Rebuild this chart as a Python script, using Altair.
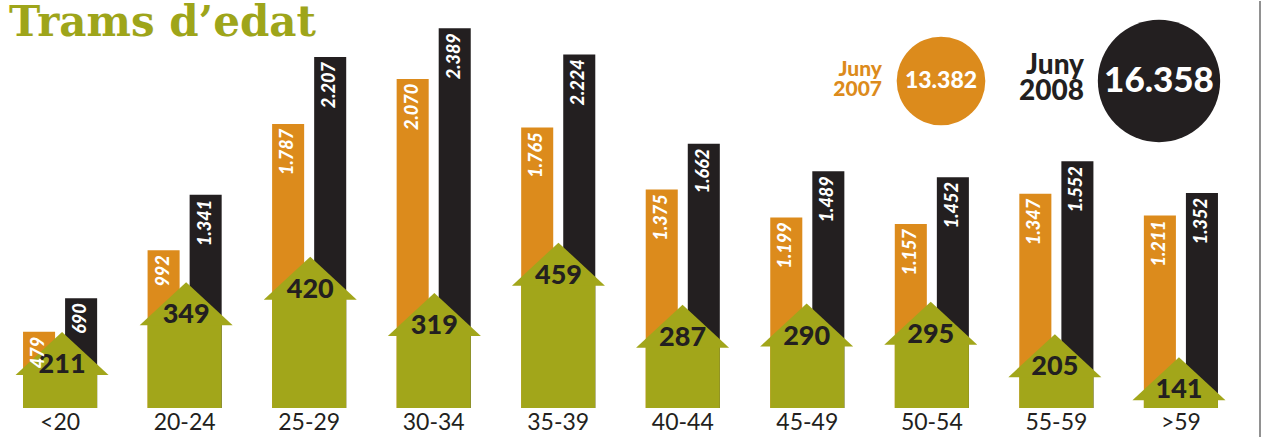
import altair as alt
import pandas as pd

title_text = ["Trams d\u2019edat"]
ages = ["<20", "20-24", "25-29", "30-34", "35-39", "40-44", "45-49", "50-54", "55-59", ">59"]
v2007 = [479, 992, 1787, 2070, 1765, 1375, 1199, 1157, 1347, 1211]
v2008 = [690, 1341, 2207, 2389, 2224, 1662, 1489, 1452, 1552, 1352]
diff = [211, 349, 420, 319, 459, 287, 290, 295, 205, 141]
years = ["2007", "2008"]
totals = [13382, 16358]

ORANGE = "#DC8B1C"
BLACK = "#231F20"
GREEN = "#A2A61A"
TITLE_GREEN = "#9EA51A"

PLOT_H = 407
ARROW_MAX = 1130
HEAD_SIZE = 8649
HEAD_PX = 0.925 * (HEAD_SIZE ** 0.5) / 2
HEAD_UNITS = (HEAD_PX - 1) * ARROW_MAX / PLOT_H

bars_df = pd.DataFrame(
    [{"age": a, "year": years[0], "value": v} for a, v in zip(ages, v2007)]
    + [{"age": a, "year": years[1], "value": v} for a, v in zip(ages, v2008)]
)
arrow_df = pd.DataFrame({"age": ages, "diff": diff})
tot_df = pd.DataFrame({"year": years, "total": totals})
title_df = pd.DataFrame({"t": title_text})

xscale = alt.Scale(domain=ages, paddingInner=0.405, paddingOuter=0.185)
offscale = alt.Scale(domain=years, paddingInner=0.238, paddingOuter=0)
offscale_pt = alt.Scale(domain=years, type="point", padding=0.379)
yscale = alt.Scale(domain=[0, 2560], nice=False, zero=True)
ascale = alt.Scale(domain=[0, ARROW_MAX], nice=False, zero=True)
cscale = alt.Scale(domain=years, range=[ORANGE, BLACK])

base_bars = alt.Chart(bars_df)

bars = base_bars.mark_bar().encode(
    x=alt.X("age:N", scale=xscale, sort=ages, title=None,
            axis=alt.Axis(domain=False, ticks=False, labelAngle=0, labelFont="Lato",
                          labelFontSize=23, labelColor=BLACK, labelPadding=3, zindex=1)),
    xOffset=alt.XOffset("year:N", scale=offscale),
    y=alt.Y("value:Q", scale=yscale, axis=None),
    color=alt.Color("year:N", scale=cscale, legend=None),
)

bar_labels = base_bars.transform_calculate(
    label="replace(format(datum.value, ','), ',', '.')"
).mark_text(
    angle=270, align="right", baseline="middle", dx=-5, color="white",
    font="Lato", fontSize=18, fontWeight=900, fontStyle="italic",
).encode(
    x=alt.X("age:N", scale=xscale, sort=ages, axis=None),
    xOffset=alt.XOffset("year:N", scale=offscale_pt),
    y=alt.Y("value:Q", scale=yscale, axis=None),
    text="label:N",
)

base_arrow = alt.Chart(arrow_df)

shaft = base_arrow.transform_calculate(
    shaft_top=f"datum.diff - {HEAD_UNITS:.2f}"
).mark_bar(color=GREEN).encode(
    x=alt.X("age:N", scale=xscale, sort=ages, axis=None),
    y=alt.Y("shaft_top:Q", scale=ascale, axis=None),
)

head = base_arrow.mark_point(
    shape="M-1,0.925L0,0L1,0.925Z", size=HEAD_SIZE, filled=True, opacity=1,
    color=GREEN, strokeWidth=0,
).encode(
    x=alt.X("age:N", scale=xscale, sort=ages, axis=None),
    y=alt.Y("diff:Q", scale=ascale, axis=None),
)

diff_text = base_arrow.mark_text(
    dy=33, baseline="middle", align="center", color=BLACK,
    font="Lato", fontSize=27, fontWeight=900,
).encode(
    x=alt.X("age:N", scale=xscale, sort=ages, axis=None),
    y=alt.Y("diff:Q", scale=ascale, axis=None),
    text="diff:Q",
)

base_tot = alt.Chart(tot_df)
circ_x = alt.Scale(domain=years, range=[941, 1159], type="point", padding=0)

circles = base_tot.mark_circle(opacity=1).encode(
    x=alt.X("year:N", scale=circ_x, axis=None),
    y=alt.value(80),
    size=alt.Size("total:Q", scale=alt.Scale(domain=totals, range=[7854, 14957], zero=False), legend=None),
    color=alt.Color("year:N", scale=cscale, legend=None),
)

circle_text = base_tot.transform_calculate(
    label="replace(format(datum.total, ','), ',', '.')"
).mark_text(color="white", font="Lato", fontWeight=900, baseline="middle", align="center").encode(
    x=alt.X("year:N", scale=circ_x, axis=None),
    y=alt.value(80),
    text="label:N",
    size=alt.Size("total:Q", scale=alt.Scale(domain=totals, range=[23, 35], zero=False), legend=None),
)

lab_x = alt.Scale(domain=years, range=[882, 1084], type="point", padding=0)

juny07 = base_tot.transform_filter(alt.datum.year == years[0]).transform_calculate(
    label="['Juny', datum.year]"
).mark_text(color=ORANGE, font="Lato", fontWeight=900, fontSize=21, lineHeight=20,
            align="right", baseline="middle").encode(
    x=alt.X("year:N", scale=lab_x, axis=None),
    y=alt.value(69),
    text=alt.Text("label:N"),
)

juny08 = base_tot.transform_filter(alt.datum.year == years[1]).transform_calculate(
    label="['Juny', datum.year]"
).mark_text(color=BLACK, font="Lato", fontWeight=900, fontSize=28, lineHeight=26,
            align="right", baseline="middle").encode(
    x=alt.X("year:N", scale=lab_x, axis=None),
    y=alt.value(65),
    text=alt.Text("label:N"),
)

title = alt.Chart(title_df).mark_text(
    font="DejaVu Serif", fontSize=42, fontWeight="bold", color=TITLE_GREEN,
    align="left", baseline="alphabetic",
).encode(x=alt.value(9), y=alt.value(35), text="t:N")

edge = alt.Chart(tot_df).mark_rule(color="#8a8a8a", strokeWidth=1.5).encode(
    x=alt.value(1260), y=alt.value(0), y2=alt.value(436)
)

chart = alt.layer(
    bars, shaft, head, diff_text, bar_labels, circles, circle_text, juny07, juny08, title, edge
).resolve_scale(
    x="independent", y="independent", size="independent", color="independent", xOffset="independent"
).properties(
    width=1241, height=PLOT_H, padding=0, background="white",
).configure_view(stroke=None)

chart.save("out.html", embed_options={"renderer": "svg", "actions": False})
